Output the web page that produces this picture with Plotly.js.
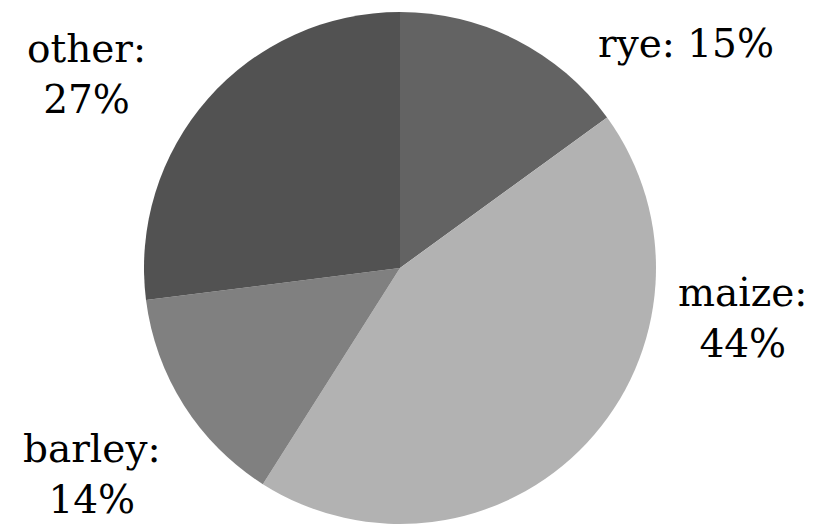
<!DOCTYPE html>
<html>
<head>
<meta charset="utf-8">
<script src="https://cdn.plot.ly/plotly-3.0.1.min.js"></script>
<style>html,body{margin:0;padding:0;background:#fff;}#chart{width:829px;height:525px;}</style>
</head>
<body>
<div id="chart"></div>
<script>
var labels = ["rye", "maize", "barley", "other"];
var values = [15, 44, 14, 27];
var colors = ["#636363", "#b2b2b2", "#808080", "#525252"];
var labelBreaks = [": ", ":<br>", ":<br>", ":<br>"];
// label block centres in pixels (layout only)
var labelPos = [[686, 44], [742, 318], [92, 474], [86, 74]];

var W = 829, H = 525;
var total = values.reduce(function (a, b) { return a + b; }, 0);
var annotations = labels.map(function (l, i) {
  var pct = Math.round(values[i] / total * 100) + "%";
  return {
    text: l + labelBreaks[i] + pct, showarrow: false, xref: "paper", yref: "paper",
    x: labelPos[i][0] / W, y: 1 - labelPos[i][1] / H,
    xanchor: "center", yanchor: "middle", align: "center",
    font: {family: "DejaVu Serif", size: 39, color: "#000"}
  };
});

var trace = {
  type: "pie", labels: labels, values: values, sort: false, direction: "clockwise",
  rotation: 0, marker: {colors: colors, line: {width: 0}},
  textinfo: "none", hoverinfo: "label+percent",
  domain: {x: [144 / W, 656 / W], y: [1 / H, 513 / H]},
  showlegend: false
};
Plotly.newPlot("chart", [trace], {
  width: W, height: H, margin: {l: 0, r: 0, t: 0, b: 0},
  paper_bgcolor: "#fff", plot_bgcolor: "#fff", showlegend: false,
  annotations: annotations
}, {displayModeBar: false, staticPlot: true});
</script>
</body>
</html>
